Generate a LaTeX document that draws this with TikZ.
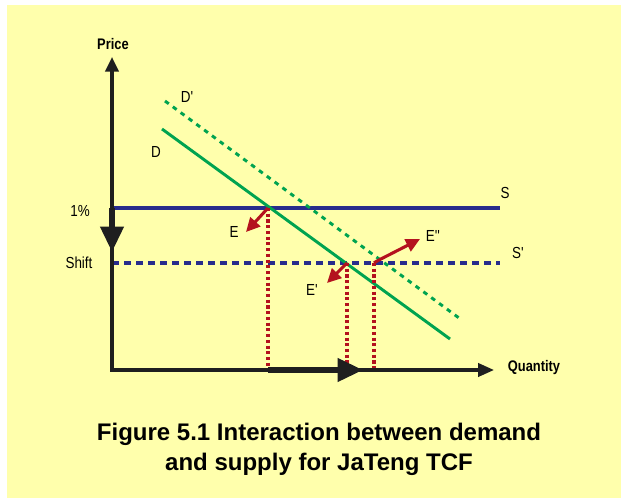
\documentclass[tikz,border=0pt]{standalone}
\usepackage{fontspec}
\setmainfont{Liberation Sans}
\newfontfamily\narrowsans[FakeStretch=0.84]{Liberation Sans}
\usepackage{tikz}
\usetikzlibrary{arrows.meta}

\definecolor{bgyellow}{RGB}{255,255,172}
\definecolor{dgreen}{RGB}{0,163,80}
\definecolor{snavy}{RGB}{40,44,140}
\definecolor{arrred}{RGB}{180,18,30}

\begin{document}
\begin{tikzpicture}[
  x=0.75pt, y=-0.75pt,
  font=\narrowsans\fontsize{12}{14}\selectfont,
  every node/.style={inner sep=0pt},
  axis/.style    ={draw=black!88, line width=2.3pt, line join=miter,
                   {Triangle[length=11pt,width=10pt]}-{Triangle[length=12pt,width=10pt]}},
  shiftarr/.style={draw=black!88, line width=3.8pt,
                   -{Triangle[length=19pt,width=17pt]}},
  supply/.style  ={draw=snavy, line width=2.3pt},
  supply-d/.style={supply, dash pattern=on 5.5pt off 3.5pt},
  demand/.style  ={draw=dgreen, line width=2.2pt},
  demand-d/.style={demand, dash pattern=on 3.5pt off 3.8pt},
  move/.style    ={draw=arrred, line width=2.3pt, -{Triangle[length=10.5pt,width=10pt]}},
  guide/.style   ={draw=arrred, line width=2.4pt, dash pattern=on 2.3pt off 2pt},
  axlbl/.style   ={font=\narrowsans\bfseries\fontsize{11.5}{14}\selectfont},
  caption/.style ={align=center, font=\bfseries\fontsize{18}{22.5}\selectfont},
]

\useasboundingbox (0,0) rectangle (621,498);
\fill[bgyellow] (7,5) rectangle (621,498);

% --- Coordonnées ---
\coordinate (O)    at (112,370);
\coordinate (ytop) at (112,57);
\coordinate (xend) at (494,370);
\coordinate (s0)   at (112,208);
\coordinate (s1)   at (500,208);
\coordinate (sp0)  at (112,263);
\coordinate (sp1)  at (500,263);
\coordinate (d0)   at (162,129);
\coordinate (d1)   at (450,339);
\coordinate (dp0)  at (165,101);
\coordinate (dp1)  at (459,318);
\coordinate (E)    at (268,208);
\coordinate (Ep)   at (347,263);
\coordinate (Epp)  at (374,263);
\coordinate (qE)   at (268,370);
\coordinate (qEp)  at (347,370);
\coordinate (qEpp) at (374,370);

% --- Courbes offre / demande ---
\draw[supply]   (s0) -- (s1);
\draw[supply-d] (sp0) -- (sp1);
\draw[demand]   (d0) -- (d1);
\draw[demand-d] (dp0) -- (dp1);

% --- Projections ---
\draw[guide] (E) -- (qE);
\draw[guide] (Ep) -- (qEp);
\draw[guide] (Epp) -- (qEpp);

% --- Axes ---
\draw[axis] (ytop) -- (O) -- (xend);
\draw[shiftarr] (s0) -- ++(0,44);
\draw[shiftarr] (qE) -- ++(95,0);

% --- Déplacements ---
\draw[move] (E) -- ++(-22,24);
\draw[move] (Ep) -- ++(-20,20);
\draw[move] (Epp) -- ++(3,-2) -- ++(43,-22);

% --- Étiquettes ---
\node[axlbl] (price) at (113,44)  {Price};
\node[axlbl] (qty)   at (534,368) {Quantity};
\node (pct)   at (80,211)  {1\%};
\node (shft)  at (79,263)  {Shift};
\node (slbl)  at (505,193) {S};
\node (splbl) at (518,253) {S'};
\node (dlbl)  at (156,152) {D};
\node (dplbl) at (187,97)  {D'};
\node (elbl)  at (234,232) {E};
\node (eplbl) at (312,290) {E'};
\node (epplbl) at (433,236) {E''};

\node[caption] (cap) at (319,449) {Figure 5.1 Interaction between demand\\and supply for JaTeng TCF};

\end{tikzpicture}
\end{document}
